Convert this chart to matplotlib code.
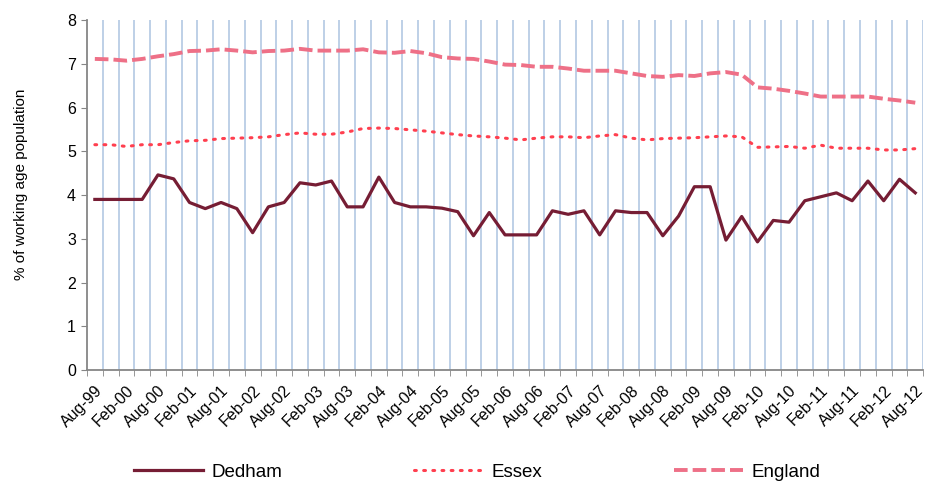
import matplotlib.pyplot as plt
import numpy as np

plt.rcParams['font.family'] = ['Liberation Sans', 'DejaVu Sans']

# quarterly, Aug-99 .. Aug-12 (53 points); labels every 6 months
tick_labels = ['Aug-99', 'Feb-00', 'Aug-00', 'Feb-01', 'Aug-01', 'Feb-02', 'Aug-02',
               'Feb-03', 'Aug-03', 'Feb-04', 'Aug-04', 'Feb-05', 'Aug-05', 'Feb-06',
               'Aug-06', 'Feb-07', 'Aug-07', 'Feb-08', 'Aug-08', 'Feb-09', 'Aug-09',
               'Feb-10', 'Aug-10', 'Feb-11', 'Aug-11', 'Feb-12', 'Aug-12']

dedham = [3.90, 3.90, 3.90, 3.90, 4.46, 4.37, 3.83, 3.69, 3.83, 3.69,
          3.14, 3.73, 3.83, 4.28, 4.23, 4.32, 3.73, 3.73, 4.41, 3.83,
          3.73, 3.73, 3.70, 3.62, 3.07, 3.60, 3.09, 3.09, 3.09, 3.64,
          3.56, 3.64, 3.09, 3.64, 3.60, 3.60, 3.07, 3.52, 4.19, 4.19,
          2.97, 3.51, 2.93, 3.42, 3.38, 3.87, 3.96, 4.05, 3.87, 4.32,
          3.87, 4.36, 4.05]

essex = [5.15, 5.15, 5.11, 5.15, 5.15, 5.20, 5.24, 5.25, 5.29, 5.30,
         5.31, 5.33, 5.38, 5.42, 5.39, 5.39, 5.44, 5.52, 5.53, 5.52,
         5.49, 5.46, 5.42, 5.38, 5.35, 5.33, 5.30, 5.26, 5.30, 5.33,
         5.33, 5.31, 5.35, 5.38, 5.30, 5.26, 5.29, 5.30, 5.31, 5.33,
         5.35, 5.33, 5.09, 5.10, 5.11, 5.07, 5.14, 5.07, 5.07, 5.07,
         5.03, 5.03, 5.06]

england = [7.11, 7.10, 7.07, 7.11, 7.17, 7.22, 7.29, 7.30, 7.33, 7.30,
           7.26, 7.29, 7.30, 7.34, 7.30, 7.30, 7.30, 7.33, 7.26, 7.25,
           7.29, 7.24, 7.15, 7.12, 7.11, 7.05, 6.98, 6.97, 6.93, 6.93,
           6.89, 6.84, 6.84, 6.84, 6.78, 6.72, 6.70, 6.74, 6.72, 6.78,
           6.81, 6.75, 6.46, 6.43, 6.38, 6.32, 6.25, 6.25, 6.25, 6.25,
           6.20, 6.16, 6.11]

n = len(dedham)
x = np.arange(n)

fig = plt.figure(figsize=(9.25, 4.87), dpi=100)
ax = fig.add_axes([0.094, 0.240, 0.904, 0.719])

# vertical gridlines at category boundaries
for b in np.arange(0.5, n, 1.0):
    ax.axvline(b, color='#b9cde5', linewidth=1.3, zorder=0)

ax.plot(x, england, color='#ee7087', linewidth=2.8, linestyle=(0, (3.5, 1.3)),
        label='England', zorder=2)
ax.plot(x, essex, color='#ff3f4f', linewidth=2.2, linestyle=(0, (0.6, 2.4)),
        dash_capstyle='round', label='Essex', zorder=3)
ax.plot(x, dedham, color='#761d34', linewidth=2.3, label='Dedham', zorder=4)

ax.set_xlim(-0.5, n - 0.5)
ax.set_ylim(0, 8)
ax.set_yticks(range(0, 9))
ax.tick_params(axis='y', labelsize=11.5, length=4, color='#868686', pad=4)

# minor ticks at category boundaries, labels every 2 categories
ax.set_xticks(np.arange(-0.5, n, 1.0), minor=True)
ax.set_xticks(x[::2])
ax.set_xticklabels(tick_labels, rotation=45, ha='right', rotation_mode='anchor',
                   fontsize=11.5)
ax.tick_params(axis='x', which='major', length=0, pad=9)
ax.tick_params(axis='x', which='minor', length=4, color='#868686')

for s in ['top', 'right']:
    ax.spines[s].set_visible(False)
for s in ['left', 'bottom']:
    ax.spines[s].set_color('#868686')
    ax.spines[s].set_linewidth(1.3)

ax.set_ylabel('% of working age population', fontsize=11)
ax.yaxis.set_label_coords(-0.07, 0.53)

h, l = ax.get_legend_handles_labels()
order = [2, 1, 0]
fig.legend([h[i] for i in order], [l[i] for i in order], loc='center',
           bbox_to_anchor=(0.516, 0.03), ncol=3, frameon=False, fontsize=13.5,
           handlelength=3.7, columnspacing=7.0, handletextpad=0.45)

fig.savefig('out.png', dpi=100)
